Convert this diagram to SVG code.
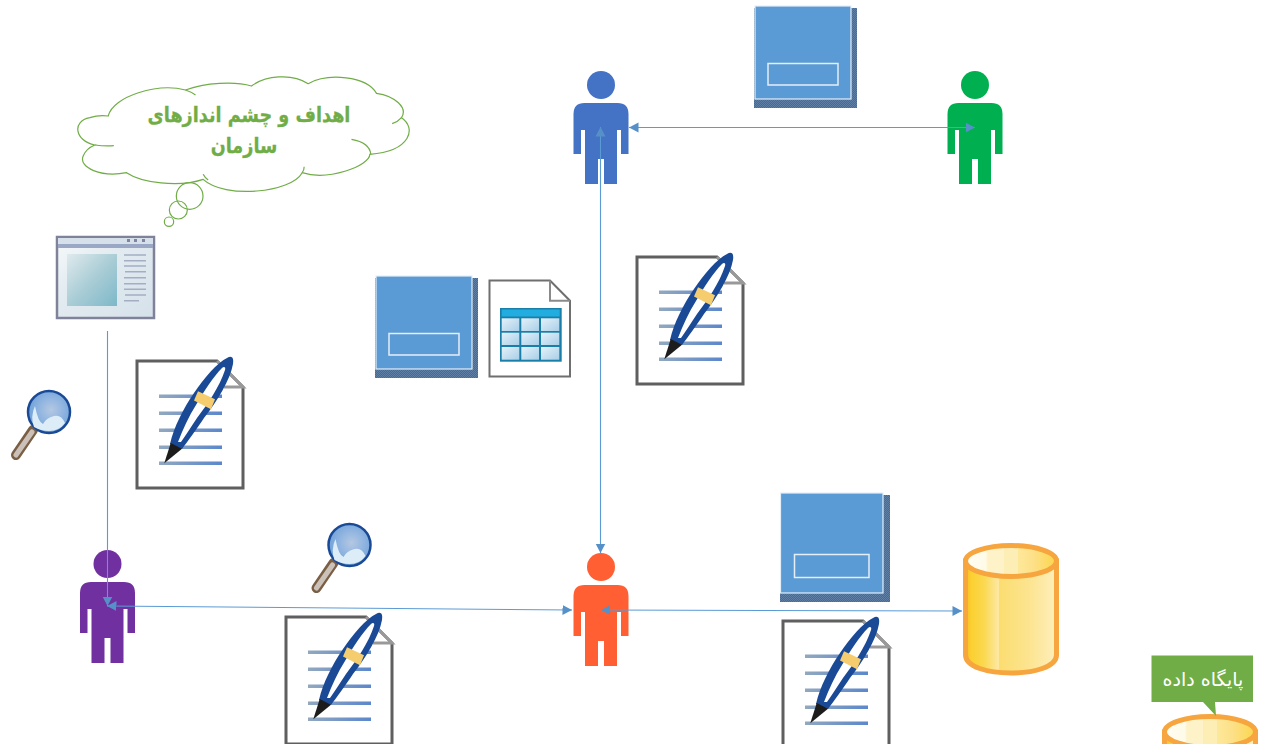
<svg xmlns="http://www.w3.org/2000/svg" xmlns:xlink="http://www.w3.org/1999/xlink" width="1261" height="744" viewBox="0 0 1261 744">
<style>
.cloud{fill:#fff;stroke:#70ad47;stroke-width:3.6}
.hook{fill:none;stroke:#70ad47;stroke-width:3.6}
.cloudtext{font-family:"DejaVu Sans",sans-serif;font-weight:700;font-size:21px;fill:#70ad47;stroke:#70ad47;stroke-width:.3;text-anchor:middle}
.calltext{font-family:"DejaVu Sans",sans-serif;font-size:19px;fill:#fff;text-anchor:middle}
.conn{fill:none;stroke:#5b9bd5;stroke-width:1.1;marker-start:url(#ah);marker-end:url(#ah)}
.card{fill:#5b9bd5;stroke:#e4eef8;stroke-width:1.2}
.inner{fill:none;stroke:#e4eef8;stroke-width:1.5}
.shadow{fill:url(#hatch)}
</style>
<defs>
<marker id="ah" markerUnits="userSpaceOnUse" markerWidth="10" markerHeight="11" refX="9.500" refY="5.500" viewBox="0 0 10 11" orient="auto-start-reverse"><path d="M0 0.500L9.500 5.500L0 10.500Z" fill="#5590c8"/></marker>
<pattern id="hatch" width="2" height="2" patternUnits="userSpaceOnUse"><rect width="2" height="2" fill="#44699a"/><rect width="1" height="1" fill="#5f80a4"/><rect x="1" y="1" width="1" height="1" fill="#5f80a4"/></pattern>
<linearGradient id="lineg"><stop offset="0" stop-color="#92a8bf"/><stop offset="1" stop-color="#5b87cc"/></linearGradient>
<linearGradient id="bodyg" x1="0" x2="1" y1="0" y2="0"><stop offset="0" stop-color="#f8bb22"/><stop offset=".06" stop-color="#fbd030"/><stop offset=".2" stop-color="#fbd84e"/><stop offset=".37" stop-color="#fde9a6"/><stop offset=".37" stop-color="#fbdd70"/><stop offset=".7" stop-color="#fce490"/><stop offset="1" stop-color="#feefbc"/></linearGradient>
<linearGradient id="topg" x1="0" x2="1" y1="0" y2="0"><stop offset="0" stop-color="#fffdf4"/><stop offset=".22" stop-color="#fffbe8"/><stop offset=".25" stop-color="#fdf2c8"/><stop offset=".42" stop-color="#fdf2c8"/><stop offset=".42" stop-color="#fdeeb6"/><stop offset=".58" stop-color="#fdeeb6"/><stop offset=".58" stop-color="#fde89a"/><stop offset=".75" stop-color="#fde088"/><stop offset="1" stop-color="#fbd64a"/></linearGradient>
<radialGradient id="leng" cx=".55" cy=".45" r=".6"><stop offset="0" stop-color="#b4c8e2"/><stop offset=".5" stop-color="#8fb4e0"/><stop offset="1" stop-color="#6a9fd8"/></radialGradient>
<linearGradient id="winbg" x1="0" y1="0" x2="1" y2="1"><stop offset="0" stop-color="#f6f9fb"/><stop offset=".4" stop-color="#e2ebf0"/><stop offset="1" stop-color="#d5e1ea"/></linearGradient>
<linearGradient id="winc" x1="0" y1="0" x2="1" y2="1"><stop offset="0" stop-color="#dfeaed"/><stop offset=".5" stop-color="#aacdd6"/><stop offset="1" stop-color="#7db8c8"/></linearGradient>
<linearGradient id="cellg" x1="0" y1="0" x2="1" y2="1"><stop offset="0" stop-color="#e4f1f9"/><stop offset="1" stop-color="#a9cfe8"/></linearGradient>
<g id="person"><circle cx="0" cy="14" r="14"/><path d="M-27.500 43Q-27.500 32-16.500 32H16.500Q27.500 32 27.500 43V83H20V59H16V113H3V88H-3V113H-16V59H-20V83H-27.500Z"/></g>
<g id="docpen">
<path d="M0 0H80L106 26V127H0Z" fill="#fff" stroke="#5f5f5f" stroke-width="3"/>
<path d="M80 0L106 26H87" fill="none" stroke="#999" stroke-width="3"/>
<rect x="22" y="33.500" width="63" height="3.500" fill="url(#lineg)"/><rect x="22" y="50.500" width="63" height="3.500" fill="url(#lineg)"/><rect x="22" y="67.500" width="63" height="3.500" fill="url(#lineg)"/><rect x="22" y="84.500" width="63" height="3.500" fill="url(#lineg)"/><rect x="22" y="100.500" width="63" height="3.500" fill="url(#lineg)"/>
<path d="M33 83C37 66 46 48 57 32C67 17 80 2 90-3C95-6 97-3 96 3C93 19 81 39 67 57C59 69 51 80 45 88Z" fill="#1a4a96"/>
<path d="M41 81C46 68 52 55 59 44C67 30 77 15 85 7C87 5 89 6 88 9C83 25 70 44 60 57C54 66 49 74 44 81Z" fill="#fff"/>
<path d="M61 30.300L78 38.300L74 48.300L57 39.500Z" fill="#f5cd6e"/>
<path d="M27.300 102.300L33.700 82L45 87.800Z" fill="#1c1c1c"/>
</g>
<g id="lens">
<path d="M-16 18L-33 43" stroke="#7a5f45" stroke-width="10" stroke-linecap="round"/>
<path d="M-17 20L-33 43" stroke="#cbc1b9" stroke-width="5" stroke-linecap="round"/>
<circle r="21" fill="url(#leng)" stroke="#1a4a96" stroke-width="2.500"/>
<path d="M-15 15Q-8 19 0 19Q10 19 16 11Q12 2 5 4Q-3 6-6 12Q-11 10-14-6Q-19 5-15 15Z" fill="#dcedf8"/>
</g>
<g id="cyl">
<path d="M2.500 18V112C2.500 136 93.500 136 93.500 112V18Z" fill="url(#bodyg)" stroke="#f6a53f" stroke-width="5"/>
<ellipse cx="48" cy="18" rx="45.500" ry="15.500" fill="url(#topg)" stroke="#f6a53f" stroke-width="5"/>
</g>
</defs>
<rect width="1261" height="744" fill="#fff"/>

<g id="cloud-goals">
<g transform="translate(61.500 71) scale(.33333)">
<path class="cloud" d="M140 135C155 75 290 35 372 57C430 35 520 30 570 45C610 15 690 5 740 38C800 5 915 15 945 67C1000 75 1040 110 1020 140C1065 170 1050 240 925 250C925 285 800 330 722 305C690 365 490 385 425 325C350 350 240 335 195 305C120 320 50 290 65 255C72 238 85 228 100 222C40 210 30 150 85 140C100 135 120 132 140 135Z"/>
<path class="hook" d="M372 57Q390 63 402 72M1020 140Q1010 152 992 158M870 205Q925 215 928 250M728 287Q728 298 722 305M425 310Q430 320 440 327M100 222Q130 226 157 224"/>
</g>
<g transform="translate(60 70) scale(.33333)"><circle class="hook" cx="389" cy="378" r="40"/><circle class="hook" cx="355" cy="420" r="27"/><circle class="hook" cx="327" cy="455" r="14"/></g>
<text class="cloudtext" transform="translate(249 122) scale(.84 1)" direction="rtl">اهداف و چشم اندازهای</text>
<text class="cloudtext" transform="translate(244 153) scale(.84 1)" direction="rtl">سازمان</text>
</g>

<g id="window">
<rect x="57" y="237" width="97" height="81" fill="url(#winbg)" stroke="#7f8299" stroke-width="2.500"/>
<rect x="58" y="238" width="95" height="6" fill="#d6e0ea"/>
<rect x="58" y="244" width="95" height="4" fill="#9aa8c5"/>
<rect x="127" y="239" width="3" height="3" fill="#7f84a0"/><rect x="134" y="239" width="3" height="3" fill="#7f84a0"/><rect x="142" y="239" width="3" height="3" fill="#7f84a0"/>
<rect x="67" y="254" width="50" height="52" fill="url(#winc)"/>
<path d="M124 255H146M124 260.700H146M124 266H146M125 271.700H146M124 277.700H146M124 283.700H146M124 289.300H146M125 295H146M124 300.700H139" stroke="#a3aec4" stroke-width="1.600"/>
</g>

<g id="magnifier-1"><use xlink:href="#lens" x="49" y="412"/></g>
<g id="magnifier-2"><use xlink:href="#lens" x="349.500" y="545"/></g>

<g id="doc-1"><use xlink:href="#docpen" x="137" y="361"/></g>
<g id="doc-2"><use xlink:href="#docpen" x="637" y="257"/></g>
<g id="doc-3"><use xlink:href="#docpen" x="286" y="617"/></g>
<g id="doc-4"><use xlink:href="#docpen" x="783" y="621"/></g>

<g id="card-1"><rect class="shadow" x="375" y="278" width="103" height="100"/><rect class="card" x="376" y="276" width="96" height="93"/><rect class="inner" x="389" y="333.500" width="70" height="21.500"/></g>
<g id="card-2"><rect class="shadow" x="754" y="8" width="103" height="100"/><rect class="card" x="755" y="6" width="96" height="93"/><rect class="inner" x="768" y="63.500" width="70" height="21.500"/></g>
<g id="card-3"><rect class="shadow" x="780" y="495" width="110" height="107"/><rect class="card" x="780.500" y="493" width="102.500" height="100"/><rect class="inner" x="794.500" y="554.500" width="74.500" height="23"/></g>

<g id="table-doc">
<path d="M489.500 280.500H550L570 300.700V376.500H489.500Z" fill="#fff" stroke="#6f6f6f" stroke-width="2"/>
<path d="M550 280.500V300.700H570" fill="none" stroke="#8a8a8a" stroke-width="2"/>
<rect x="500" y="308" width="61.700" height="53.700" fill="#1a7fa8"/>
<rect x="501.700" y="309.500" width="58" height="7" fill="#22ade0"/>
<g fill="url(#cellg)"><rect x="501.700" y="318.300" width="17.600" height="12.700"/><rect x="521.300" y="318.300" width="17.700" height="12.700"/><rect x="541" y="318.300" width="18.300" height="12.700"/><rect x="501.700" y="332.700" width="17.600" height="12.300"/><rect x="521.300" y="332.700" width="17.700" height="12.300"/><rect x="541" y="332.700" width="18.300" height="12.300"/><rect x="501.700" y="347" width="17.600" height="12.700"/><rect x="521.300" y="347" width="17.700" height="12.700"/><rect x="541" y="347" width="18.300" height="12.700"/></g>
</g>

<g id="person-blue" fill="#4472c4"><use xlink:href="#person" x="601" y="71"/></g>
<g id="person-green" fill="#00b050"><use xlink:href="#person" x="975" y="71"/></g>
<g id="person-purple" fill="#7030a0"><use xlink:href="#person" x="107.500" y="550"/></g>
<g id="person-orange" fill="#ff5f33"><use xlink:href="#person" x="601" y="553"/></g>

<g id="database-1"><use xlink:href="#cyl" x="963" y="543"/></g>
<g id="database-2"><use xlink:href="#cyl" x="1162" y="714"/></g>

<g id="callout">
<path d="M1151.500 655.500H1253V702H1215L1216 716L1203 702H1151.500Z" fill="#70ad47"/>
<text class="calltext" x="1203" y="686" direction="rtl">پایگاه داده</text>
</g>

<g id="connectors">
<path class="conn" style="marker-start:none" d="M107.500 331V606"/>
<path class="conn" d="M107 606L572 610"/>
<path class="conn" d="M600.500 127V553"/>
<path class="conn" d="M629 127.500H975"/>
<path class="conn" d="M601 610L962 611"/>
</g>
</svg>
